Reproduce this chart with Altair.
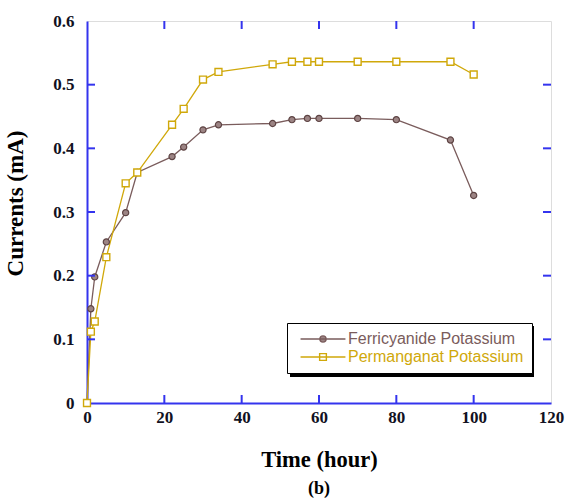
import altair as alt
import pandas as pd

series_names = ["Ferricyanide Potassium", "Permanganat Potassium"]

ferri_time = [0, 1, 2, 5, 10, 13, 22, 25, 30, 34, 48, 53, 57, 60, 70, 80, 94, 100]
ferri_current = [0, 0.148, 0.198, 0.253, 0.299, 0.362, 0.387, 0.402, 0.429, 0.437,
                 0.439, 0.445, 0.447, 0.447, 0.447, 0.445, 0.413, 0.326]

perm_time = [0, 1, 2, 5, 10, 13, 22, 25, 30, 34, 48, 53, 57, 60, 70, 80, 94, 100]
perm_current = [0, 0.112, 0.128, 0.229, 0.345, 0.362, 0.437, 0.462, 0.508, 0.520,
                0.532, 0.536, 0.536, 0.536, 0.536, 0.536, 0.536, 0.516]

x_ticks = [0, 20, 40, 60, 80, 100, 120]
y_ticks = [0, 0.1, 0.2, 0.3, 0.4, 0.5, 0.6]
x_inner_ticks = [20, 40, 60, 80, 100]
y_inner_ticks = [0.1, 0.2, 0.3, 0.4, 0.5]

BROWN = "#7a5c5c"
GOLD = "#d0a80a"
BLUE = "#3434ee"
W, H = 464, 382

df = pd.DataFrame({
    "time": ferri_time + perm_time,
    "current": ferri_current + perm_current,
    "series": [series_names[0]] * len(ferri_time) + [series_names[1]] * len(perm_time),
})
xt = pd.DataFrame({"t": x_inner_ticks})
yt = pd.DataFrame({"v": y_inner_ticks})

xs = alt.Scale(domain=[0, 120], nice=False, zero=False)
ys = alt.Scale(domain=[0, 0.6], nice=False)
cs = alt.Scale(domain=series_names, range=[BROWN, GOLD])

circ_path = "M-4,0H4M-0.55,0A0.55,0.55 0 1,0 0.55,0A0.55,0.55 0 1,0 -0.55,0"
sq_path = "M-4,0H4M-0.6,-0.6H0.6V0.6H-0.6Z"
first = series_names[0]

legend = alt.Legend(
    title=None, orient="none", legendX=200, legendY=302, direction="vertical",
    fillColor="white", strokeColor="black", padding=8,
    labelFont="Liberation Sans", labelFontSize=16, labelLimit=400,
    labelColor=alt.ExprRef(expr=f"datum.label == '{first}' ? '{BROWN}' : '{GOLD}'"),
    symbolType=alt.ExprRef(expr=f"datum.value == '{first}' ? '{circ_path}' : '{sq_path}'"),
    symbolFillColor=alt.ExprRef(expr=f"datum.value == '{first}' ? '#9c8484' : 'white'"),
    symbolSize=126, symbolStrokeWidth=1.4, symbolOffset=20, labelOffset=17,
    rowPadding=2,
)

x_axis = alt.Axis(values=x_ticks, ticks=False, grid=False, domainColor=BLUE, domainWidth=2,
                  labelFont="Liberation Serif", labelFontSize=17, labelFontWeight="bold",
                  labelColor="#111122", labelPadding=6, labelFlush=False,
                  title="Time (hour)", titleFont="Liberation Serif", titleFontSize=22.5,
                  titleFontWeight="bold", titleColor="black", titleY=56, titleBaseline="middle")
y_axis = alt.Axis(values=y_ticks, ticks=False, grid=False, domainColor=BLUE, domainWidth=2,
                  format=".1~f",
                  labelFont="Liberation Serif", labelFontSize=17, labelFontWeight="bold",
                  labelColor="#111122", labelPadding=13, labelFlush=False,
                  title="Currents (mA)", titleFont="Liberation Serif", titleFontSize=23,
                  titleFontWeight="bold", titleColor="black", titleX=-72, titleY=182,
                  titleAngle=-90, titleBaseline="middle")

base = alt.Chart(df)

lines = base.mark_line(strokeWidth=1.3).encode(
    x=alt.X("time:Q", scale=xs, axis=x_axis),
    y=alt.Y("current:Q", scale=ys, axis=y_axis),
    color=alt.Color("series:N", scale=cs, legend=legend),
)

circles = base.transform_filter(alt.datum.series == series_names[0]).mark_point(
    shape="circle", filled=True, size=38, fill="#9c8484", stroke="#5e4444", strokeWidth=1.2, opacity=1
).encode(x=alt.X("time:Q", scale=xs), y=alt.Y("current:Q", scale=ys))

squares = base.transform_filter(alt.datum.series == series_names[1]).mark_point(
    shape="square", filled=True, size=48, fill="white", stroke=GOLD, strokeWidth=1.4, opacity=1
).encode(x=alt.X("time:Q", scale=xs), y=alt.Y("current:Q", scale=ys))

tick_len = 8
xb = alt.Chart(xt).mark_rule(color=BLUE, strokeWidth=2).encode(
    x=alt.X("t:Q", scale=xs), y=alt.value(H), y2=alt.value(H - tick_len))
xtp = alt.Chart(xt).mark_rule(color=BLUE, strokeWidth=2).encode(
    x=alt.X("t:Q", scale=xs), y=alt.value(0), y2=alt.value(tick_len))
yl = alt.Chart(yt).mark_rule(color=BLUE, strokeWidth=2).encode(
    y=alt.Y("v:Q", scale=ys), x=alt.value(0), x2=alt.value(tick_len))
yr = alt.Chart(yt).mark_rule(color=BLUE, strokeWidth=2).encode(
    y=alt.Y("v:Q", scale=ys), x=alt.value(W - tick_len), x2=alt.value(W))

shadow = alt.Chart(xt.head(1)).mark_rect(color="black").encode(
    x=alt.value(203), x2=alt.value(447), y=alt.value(305), y2=alt.value(356))

chart = alt.layer(shadow, lines, circles, squares, xb, xtp, yl, yr).properties(
    width=W, height=H,
    title=alt.TitleParams("(b)", orient="bottom", anchor="middle", font="Liberation Serif",
                          fontSize=18, fontWeight="bold", color="black", offset=9),
    padding={"left": 87, "top": 21, "right": 15, "bottom": 97},
    autosize=alt.AutoSizeParams(type="none"),
).configure_view(stroke=BLUE, strokeWidth=2).configure(background="white")

chart.save("out.html", embed_options={"renderer": "svg", "actions": False})
